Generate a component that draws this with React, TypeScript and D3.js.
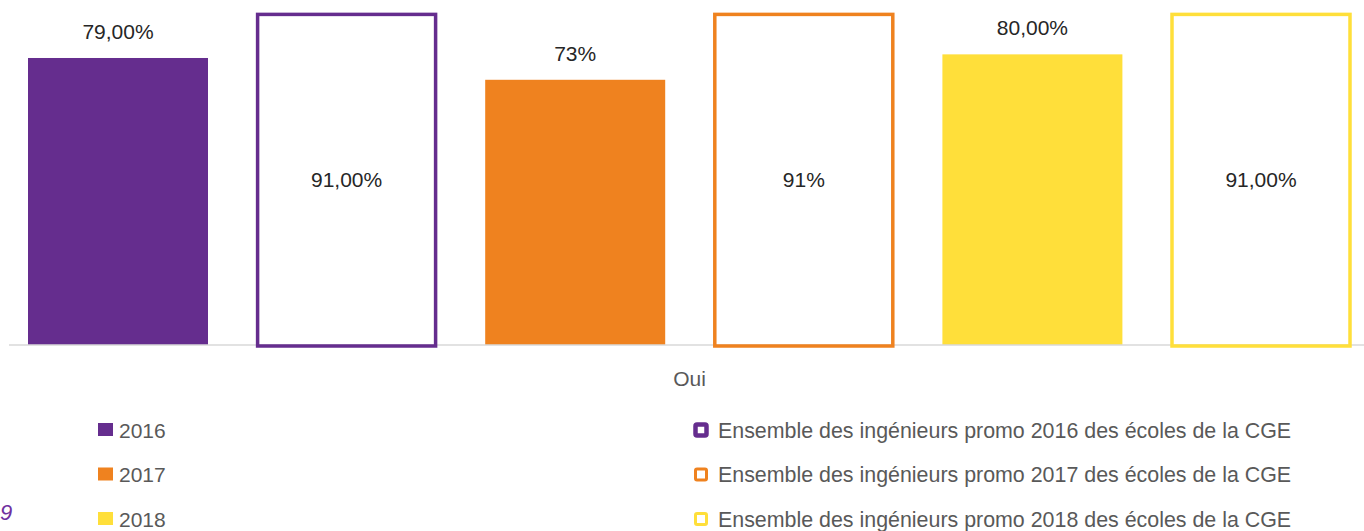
import React from 'react';
import * as d3 from 'd3';

// bar order as drawn: school year, then CGE overall for the same promo
const barKeys = ['2016', 'CGE 2016', '2017', 'CGE 2017', '2018', 'CGE 2018'];
const barValues = [79, 91, 73, 91, 80, 91];
const barLabels = ['79,00%', '91,00%', '73%', '91%', '80,00%', '91,00%'];
const barOutlined = [false, true, false, true, false, true];
const barColors = ['#652d8e', '#652d8e', '#ef821f', '#ef821f', '#ffdf3a', '#ffdf3a'];

const category = 'Oui';

const legendLeft = ['2016', '2017', '2018'];
const legendRight = [
  'Ensemble des ingénieurs promo 2016 des écoles de la CGE',
  'Ensemble des ingénieurs promo 2017 des écoles de la CGE',
  'Ensemble des ingénieurs promo 2018 des écoles de la CGE',
];
const legendColors = ['#652d8e', '#ef821f', '#ffdf3a'];

const W = 1364;
const H = 531;
const baseY = 345;
const font = '"Liberation Sans", Arial, sans-serif';

const App = () => {
  const x = d3.scaleBand<string>()
    .domain(barKeys)
    .range([28, 1351])
    .paddingInner(0.2126)
    .paddingOuter(0);

  const y = d3.scaleLinear()
    .domain([0, 100])
    .range([baseY, -18.3]);

  const bw = x.bandwidth();

  return (
    <svg width={W} height={H} style={{ position: 'fixed', left: 0, top: 0, background: '#fff' }}
      fontFamily={font}>
      <rect width={W} height={H} fill="#fff" />

      {/* solid bars */}
      {barKeys.map((k, i) => !barOutlined[i] && (
        <rect key={k} x={x(k)} y={y(barValues[i])} width={bw} height={baseY - y(barValues[i])}
          fill={barColors[i]} />
      ))}

      {/* axis */}
      <line x1={9} x2={W} y1={baseY} y2={baseY} stroke="#d9d9d9" strokeWidth={1.5} />

      {/* outlined bars */}
      {barKeys.map((k, i) => barOutlined[i] && (
        <rect key={k} x={(x(k) as number) + 1} y={y(barValues[i])} width={bw - 2}
          height={baseY + 1 - y(barValues[i])}
          fill="none" stroke={barColors[i]} strokeWidth={3.5} />
      ))}

      {/* data labels */}
      {barKeys.map((k, i) => {
        const cx = (x(k) as number) + bw / 2;
        const ty = barOutlined[i]
          ? (y(barValues[i]) + baseY) / 2 + 7.5
          : y(barValues[i]) - 19;
        return (
          <text key={k} x={cx} y={ty} textAnchor="middle" fontSize={21} fill="#262626">
            {barLabels[i]}
          </text>
        );
      })}

      <text x={689.5} y={385.5} textAnchor="middle" fontSize={21} fill="#595959">{category}</text>

      {/* legend */}
      {legendLeft.map((t, i) => (
        <g key={t} transform={`translate(0,${430 + i * 44.5})`}>
          <rect x={98} y={-7} width={15} height={13} fill={legendColors[i]} />
          <text x={119} y={7.5} fontSize={21} fill="#595959">{t}</text>
        </g>
      ))}
      {legendRight.map((t, i) => (
        <g key={t} transform={`translate(0,${430 + i * 44.5})`}>
          <rect x={695.5} y={-5.5} width={11} height={11} rx={1.5} fill="#fff"
            stroke={legendColors[i]} strokeWidth={i === 0 ? 4.5 : 3} />
          <text x={718} y={7.5} fontSize={21.4} fill="#595959">{t}</text>
        </g>
      ))}

      {/* page number at the left edge */}
      <text x={0} y={520} fontSize={22} fontStyle="italic" fill="#7030a0">9</text>
    </svg>
  );
};

export default App;
